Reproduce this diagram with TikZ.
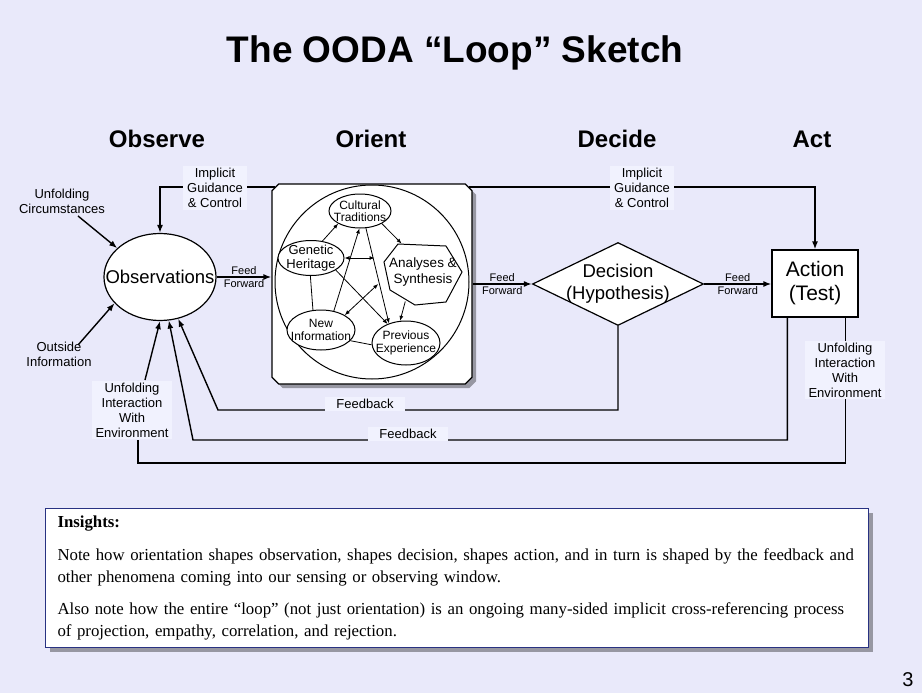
\documentclass[tikz,border=0pt]{standalone}
\usepackage{fontspec}
\setmainfont{Liberation Sans}
\newfontfamily\serifins{Liberation Serif}
\usetikzlibrary{shapes.geometric,shapes.misc,arrows.meta,shadows}
\definecolor{slidebg}{RGB}{233,233,250}
\definecolor{labelbg}{RGB}{241,242,254}
\definecolor{insline}{RGB}{40,50,130}
\newcommand{\fsz}[2]{\fontsize{#1}{#2}\selectfont}

\begin{document}
\begin{tikzpicture}[x=1pt, y=-1pt, line width=1.4pt,
  conn/.style={-{Latex[length=8pt,width=6pt]}},
  orlink/.style={line width=0.8pt},
  orarr/.style={orlink, -{Latex[length=5pt,width=4pt]}},
  orboth/.style={orlink, {Latex[length=5pt,width=4pt]}-{Latex[length=5pt,width=4pt]}},
  blob/.style={ellipse, draw, fill=white, line width=1pt, inner xsep=-6pt, inner ysep=-1pt, align=center, font=\fsz{12}{12.5}},
  lbl/.style={fill=labelbg, inner xsep=4pt, inner ysep=2pt, align=center, font=\fsz{13}{15}},
  ff/.style={align=center, inner sep=0pt, font=\fsz{11}{12.5}},
  stagehd/.style={anchor=base, font=\bfseries\fsz{24}{26}},
  shade/.style={drop shadow={shadow xshift=4pt, shadow yshift=-4pt, opacity=0.35, fill=black}}]
\fill[slidebg] (0,0) rectangle (922,693);
\useasboundingbox (0,0) rectangle (922,693);

\node[anchor=base, font=\bfseries\fsz{37}{40}] (title) at (455,63) {The OODA “Loop” Sketch};
\node[stagehd] (obsh) at (157,147) {Observe};
\node[stagehd] (orih) at (371,147) {Orient};
\node[stagehd] (dech) at (617,147) {Decide};
\node[stagehd] (acth) at (812,147) {Act};

\node[ellipse, draw, fill=white, line width=1.2pt, minimum width=112pt, minimum height=87pt, inner xsep=-15pt, inner ysep=0pt, font=\fsz{18.5}{20}] (obs) at (160,277) {Observations};
\node[chamfered rectangle, chamfered rectangle xsep=14pt, draw, fill=white, line width=1.2pt, minimum width=200pt, minimum height=200pt, shade] (orient) at (372,284) {};
\node[circle, draw, line width=1pt, minimum size=194pt, inner sep=0pt] (ring) at (372,282) {};
\node[diamond, draw, fill=white, line width=1.2pt, aspect=2.06, inner sep=-5pt, minimum width=171pt, minimum height=83pt, align=center, font=\fsz{18.5}{22}] (dec) at (618,284) {Decision\\(Hypothesis)};
\node[draw, fill=white, line width=1.2pt, minimum width=86pt, minimum height=67pt, align=center, font=\fsz{21}{24}] (act) at (815,283.5) {Action\\(Test)};

\node[blob, minimum width=62pt, minimum height=34pt] (cul) at (360,211) {Cultural\\Traditions};
\node[blob, minimum width=66pt, minimum height=35pt, font=\fsz{13}{14}] (gen) at (311,258) {Genetic\\Heritage};
\node[blob, minimum width=68pt, minimum height=40pt] (newi) at (321,330) {New\\Information};
\node[blob, minimum width=68pt, minimum height=44pt] (prev) at (406,343) {Previous\\Experience};
\draw[line width=1pt, fill=white] (384,262) -- (398,244) -- (446,246) -- (462,272) -- (446,302) -- (415,305) -- (390,290) -- cycle;
\node[ellipse, minimum width=82pt, minimum height=62pt, inner sep=0pt, align=center, font=\fsz{13.5}{16}] (ana) at (423,272) {Analyses \&\\Synthesis};

\draw[orarr] (gen.56) -- (cul.210);
\draw[orarr] (cul.330) -- (ana.127);
\draw[orboth] (gen.east) -- (gen.east -| ana.west);
\draw[orarr] (newi.56) -- (cul.268);
\draw[orarr] (cul.289) -- (prev.131);
\draw[orarr] (gen.334) -- (prev.134);
\draw[orboth] (newi.32) -- (ana.195);
\draw[orlink] (newi.112) -- (gen.268);
\draw[orlink] (newi.340) -- (prev.183);
\draw[orarr] (ana.239) -- (prev.105);

\node[lbl, fill=none] (circ) at (62,201) {Unfolding\\Circumstances};
\node[lbl, fill=none] (outs) at (59,354) {Outside\\Information};
\node[lbl] (envl) at (132,410) {Unfolding\\Interaction\\With\\Environment};
\coordinate (fb1) at (218,410);
\coordinate (fb2) at (193,440);
\coordinate (envc) at (138,463);

\draw[conn] (obs.east) -- (obs.east -| orient.west) node[midway, ff] {Feed\\Forward};
\draw[conn] (dec.west -| orient.east) -- (dec.west) node[midway, ff] {Feed\\Forward};
\draw[conn] (dec.east) -- (dec.east -| act.west) node[midway, ff] {Feed\\Forward};
\draw[conn] (orient.135) -| (obs.north);
\draw[conn] (orient.45) -| (act.north);
\draw[conn] (dec.south) |- (fb1) -- (obs);
\draw[conn] ([xshift=16pt]act.south west) |- (fb2) -- (obs);
\draw ([xshift=-13pt]act.south east) |- (envc) -- (envc |- envl.south);
\draw[conn] ([xshift=13pt]envl.north) -- (obs.south);
\draw[conn] ([xshift=16pt]circ.south) -- (obs.146);
\draw[conn] ([xshift=19pt,yshift=-6pt]outs.north) -- (obs.210);

\node[lbl] (lgl) at (215,188) {Implicit\\Guidance\\\& Control};
\node[lbl] (lgr) at (642,188) {Implicit\\Guidance\\\& Control};
\node[lbl, inner xsep=11pt] (fbl1) at (365,404) {Feedback};
\node[lbl, inner xsep=11pt] (fbl2) at (408,434) {Feedback};
\node[lbl] (envr) at (845,370) {Unfolding\\Interaction\\With\\Environment};

\node[draw=insline, line width=1pt, fill=white, anchor=north west, text width=799pt, inner xsep=12pt, inner ysep=7pt, minimum height=139pt, align=left, font=\serifins\fsz{16.8}{22}, shade] (ins) at (45,508) {\textbf{Insights:}\\[11pt]
Note how orientation shapes observation, shapes decision, shapes action, and in turn is shaped by the feedback and\\
other phenomena coming into our sensing or observing window.\\[10pt]
Also note how the entire “loop” (not just orientation) is an ongoing many-sided implicit cross-referencing process\\
of projection, empathy, correlation, and rejection.};
\node[font=\fsz{20}{22}] (pg) at (908,680) {3};
\end{tikzpicture}
\end{document}
